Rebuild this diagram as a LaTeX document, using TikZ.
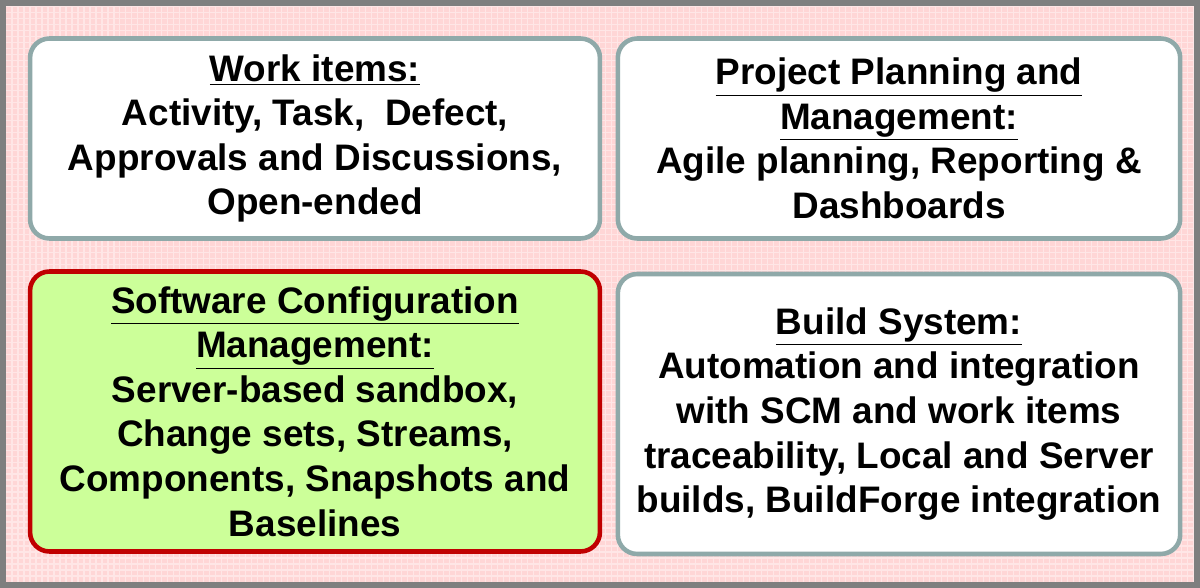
\documentclass[tikz,border=0pt]{standalone}
\usepackage{fontspec}
\setmainfont{Liberation Sans}
\usepackage{tikz}
\definecolor{framegray}{HTML}{7F7F7F}
\definecolor{bgpink}{HTML}{FFD6D6}
\definecolor{gridpink}{HTML}{FFE6E6}
\definecolor{boxgray}{HTML}{8FA9A9}
\definecolor{scmred}{HTML}{C00000}
\definecolor{scmgreen}{HTML}{CCFF99}
\tikzset{
  area/.style={draw=boxgray, line width=2.6pt, fill=white, rounded corners=11pt,
    align=center, inner sep=0pt, font=\bfseries\fontsize{21}{25.4}\selectfont},
  hilite/.style={area, draw=scmred, fill=scmgreen}
}
\begin{document}
\begin{tikzpicture}[x=0.02cm, y=0.02cm]
        \useasboundingbox (0,0) rectangle (1200,588);
        \fill [framegray] (0,0) rectangle (1200,588);
        \fill [bgpink] (6,6) rectangle (1194,582);
        \draw [gridpink, line width=0.6pt, step=0.12cm] (6,6) grid (1194,582);
        \node [area, minimum width=11.4cm, minimum height=4.0cm] (work) at (315,449.5)
            {\underline{Work items:}\\Activity, Task,~ Defect,\\Approvals and Discussions,\\Open-ended};
        \node [area, minimum width=11.25cm, minimum height=4.0cm] (plan) at (899,449.5)
            {\underline{Project Planning and}\\\underline{Management:}\\Agile planning, Reporting \&\\Dashboards};
        \node [hilite, minimum width=11.4cm, minimum height=5.6cm] (scm) at (315,176.5)
            {\underline{Software Configuration}\\\underline{Management:}\\Server-based sandbox,\\Change sets, Streams,\\Components, Snapshots and\\Baselines};
        \node [area, minimum width=11.25cm, minimum height=5.6cm] (build) at (899,174)
            {\underline{Build System:}\\Automation and integration\\with SCM and work items\\traceability, Local and Server\\builds, BuildForge integration};
    \end{tikzpicture}
\end{document}
